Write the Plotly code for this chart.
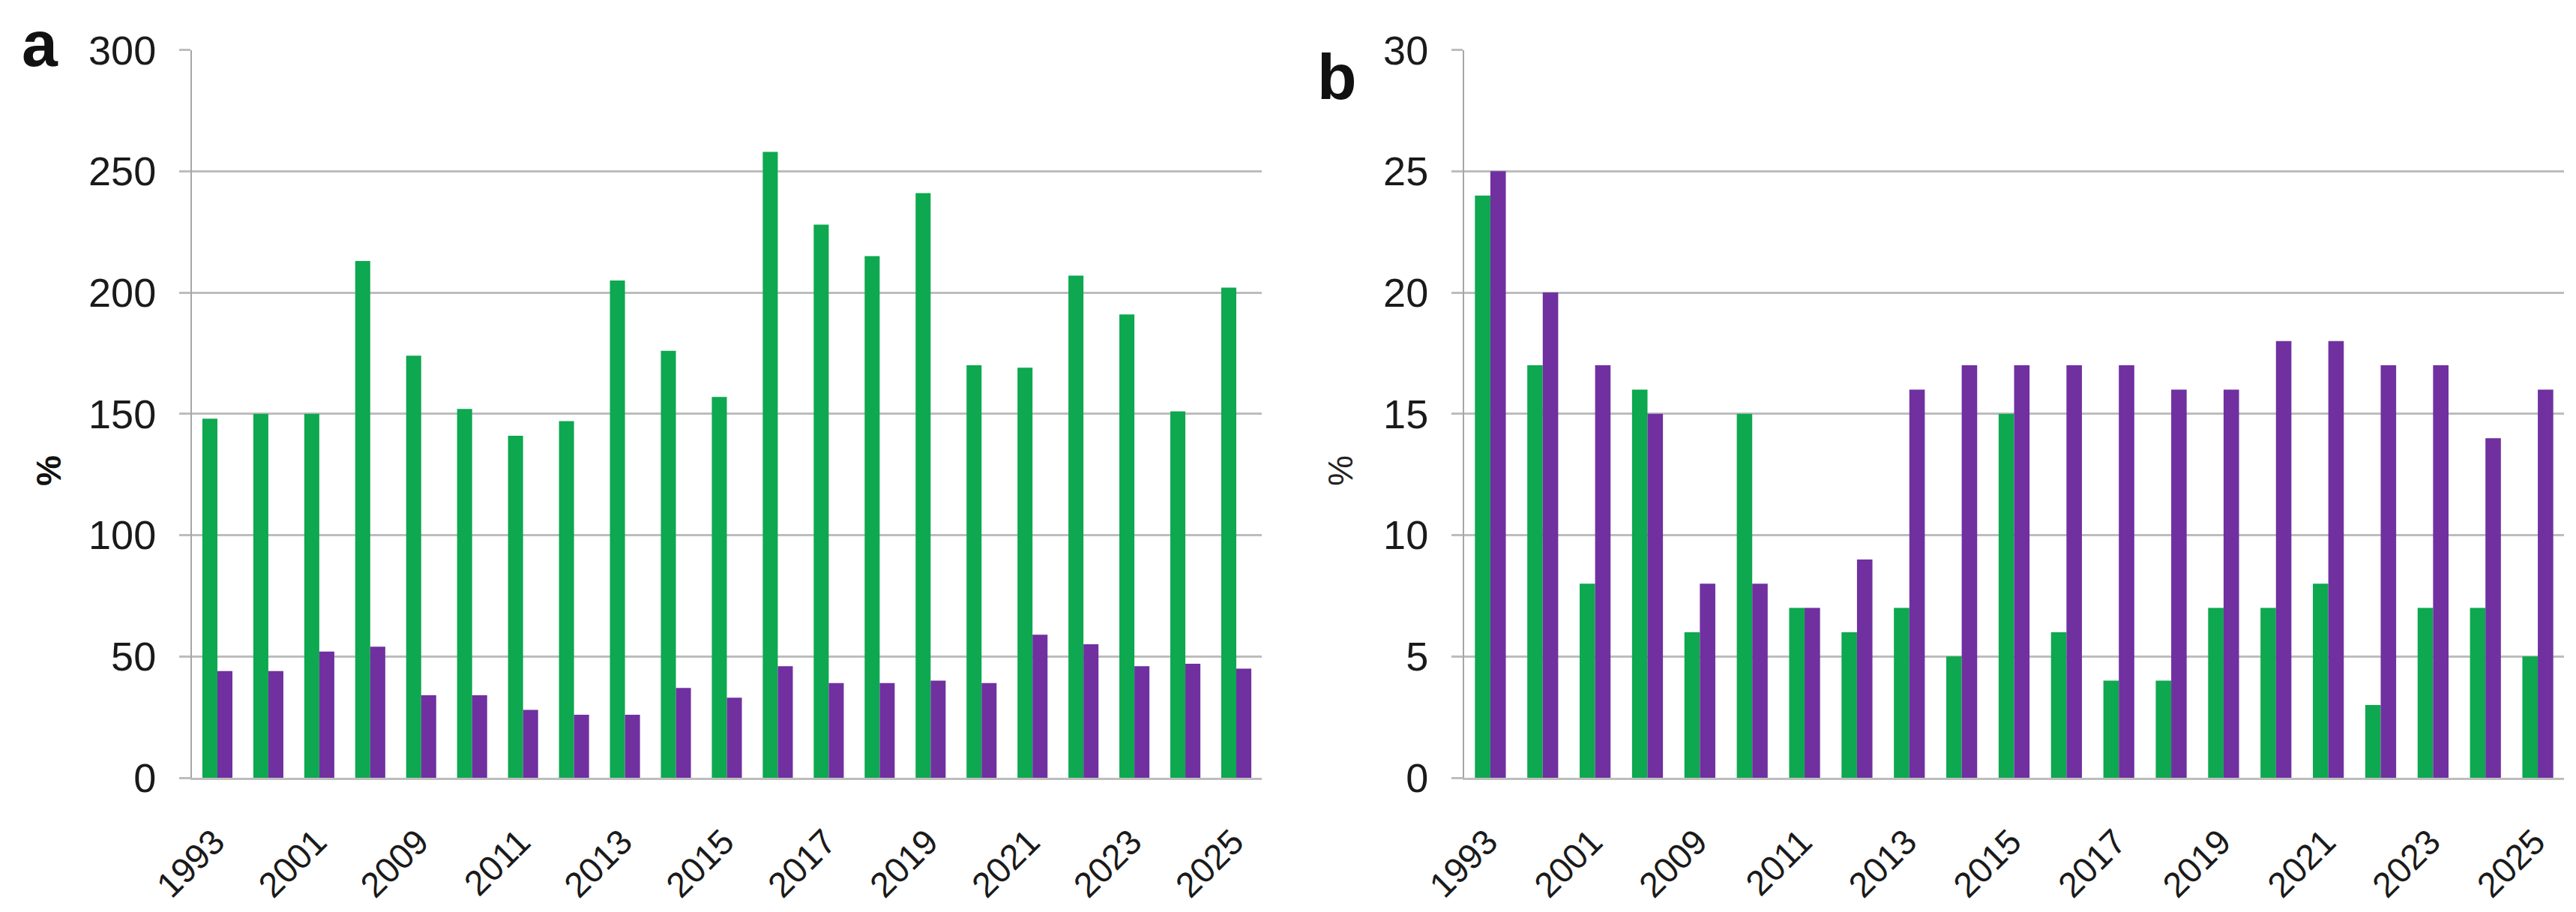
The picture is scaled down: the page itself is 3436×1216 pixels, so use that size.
import plotly.graph_objects as go

years = ["1993", "1997", "2001", "2005", "2009", "2010", "2011", "2012", "2013", "2014",
         "2015", "2016", "2017", "2018", "2019", "2020", "2021", "2022", "2023", "2024", "2025"]
tick_years = years[::2]

a_green = [148, 150, 150, 213, 174, 152, 141, 147, 205, 176, 157, 258, 228, 215, 241,
           170, 169, 207, 191, 151, 202]
a_purple = [44, 44, 52, 54, 34, 34, 28, 26, 26, 37, 33, 46, 39, 39, 40, 39, 59, 55, 46, 47, 45]

b_green = [24, 17, 8, 16, 6, 15, 7, 6, 7, 5, 15, 6, 4, 4, 7, 7, 8, 3, 7, 7, 5]
b_purple = [25, 20, 17, 15, 8, 8, 7, 9, 16, 17, 17, 17, 17, 16, 16, 18, 18, 17, 17, 14, 16]

GREEN = "#0DA84F"
PURPLE = "#7030A0"
GRID = "#BDBDBD"
FONT = "Liberation Sans, Arial, sans-serif"
W, H = 3436, 1216

fig = go.Figure()
fig.add_trace(go.Bar(x=years, y=a_green, marker=dict(color=GREEN, line=dict(width=0)),
                     xaxis="x", yaxis="y", showlegend=False))
fig.add_trace(go.Bar(x=years, y=a_purple, marker=dict(color=PURPLE, line=dict(width=0)),
                     xaxis="x", yaxis="y", showlegend=False))
fig.add_trace(go.Bar(x=years, y=b_green, marker=dict(color=GREEN, line=dict(width=0)),
                     xaxis="x2", yaxis="y2", showlegend=False))
fig.add_trace(go.Bar(x=years, y=b_purple, marker=dict(color=PURPLE, line=dict(width=0)),
                     xaxis="x2", yaxis="y2", showlegend=False))

ydom = [(H - 1037) / H, (H - 66.6) / H]

xcommon = dict(type="category", tickmode="array", tickvals=tick_years, ticktext=tick_years,
               tickangle=-45, tickfont=dict(family=FONT, size=47, color="#1a1a1a"),
               showgrid=False, showline=True, linecolor=GRID, linewidth=3,
               ticks="", ticklabelstandoff=36, ticklabelshift=-4, automargin=False)
ycommon = dict(showgrid=True, gridcolor=GRID, gridwidth=3, zeroline=False,
               showline=True, linecolor="#A6A6A6", linewidth=2,
               ticks="outside", ticklen=15, tickwidth=3, tickcolor=GRID,
               tickfont=dict(family=FONT, size=54, color="#1a1a1a"),
               ticklabelstandoff=20, domain=ydom, automargin=False)

fig.update_layout(
    width=W, height=H, margin=dict(l=0, r=0, t=0, b=0, pad=0, autoexpand=False),
    paper_bgcolor="white", plot_bgcolor="white",
    barmode="group", bargap=0.41, bargroupgap=0.0,
    xaxis=dict(xcommon, domain=[256 / W, 1683 / W], anchor="y"),
    yaxis=dict(ycommon, range=[0, 300], dtick=50, anchor="x"),
    xaxis2=dict(xcommon, domain=[1953 / W, 3420 / W], anchor="y2"),
    yaxis2=dict(ycommon, range=[0, 30], dtick=5, anchor="x2"),
    annotations=[
        dict(text="<b>a</b>", x=53 / W, y=1 - 58 / H, xref="paper", yref="paper",
             xanchor="center", yanchor="middle", showarrow=False,
             font=dict(family=FONT, size=86, color="#111")),
        dict(text="<b>b</b>", x=1783 / W, y=1 - 102 / H, xref="paper", yref="paper",
             xanchor="center", yanchor="middle", showarrow=False,
             font=dict(family=FONT, size=86, color="#111")),
        dict(text="<b>%</b>", x=65 / W, y=1 - 628 / H, xref="paper", yref="paper",
             xanchor="center", yanchor="middle", showarrow=False, textangle=-90,
             font=dict(family=FONT, size=46, color="#111")),
        dict(text="%", x=1788 / W, y=1 - 627 / H, xref="paper", yref="paper",
             xanchor="center", yanchor="middle", showarrow=False, textangle=-90,
             font=dict(family=FONT, size=46, color="#222")),
    ],
)

fig.write_html("out.html")
